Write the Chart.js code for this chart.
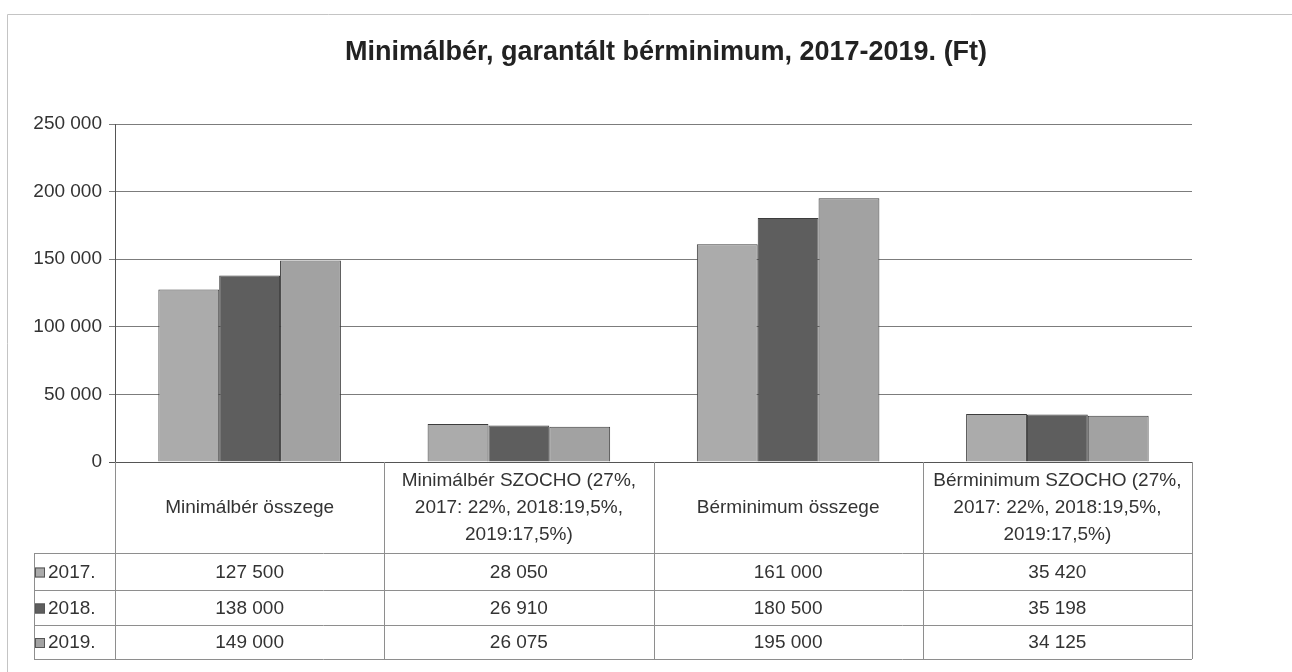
<!DOCTYPE html>
<html>
<head>
<meta charset="utf-8">
<script src="https://cdn.jsdelivr.net/npm/chart.js"></script>
<style>
  html, body { margin: 0; padding: 0; background: #fff; }
  #wrap { position: relative; width: 1292px; height: 672px; }
</style>
</head>
<body>
<div id="wrap"><canvas id="myChart" width="1292" height="672"></canvas></div>
<script>
// Chart data
const categories = [
  ['Minimálbér összege'],
  ['Minimálbér SZOCHO (27%,', '2017: 22%, 2018:19,5%,', '2019:17,5%)'],
  ['Bérminimum összege'],
  ['Bérminimum SZOCHO (27%,', '2017: 22%, 2018:19,5%,', '2019:17,5%)']
];
const years = ['2017.', '2018.', '2019.'];
const values2017 = [127500, 28050, 161000, 35420];
const values2018 = [138000, 26910, 180500, 35198];
const values2019 = [149000, 26075, 195000, 34125];
const yTicks = [0, 50000, 100000, 150000, 200000, 250000];

const barColors = ['#ababab', '#5e5e5e', '#a2a2a2'];
const FONT = '"Liberation Sans", Arial, sans-serif';
const TEXT = '#333';

// "127500" -> "127 500"
const fmt = v => String(v).replace(/\B(?=(\d{3})+(?!\d))/g, ' ');

// Title plus the data table under the plot area
const tablePlugin = {
  id: 'dataTable',
  afterDraw(chart) {
    const ctx = chart.ctx;
    const x = chart.scales.x;
    const area = chart.chartArea;
    const half = x.width / categories.length / 2;
    const headTop = area.bottom, headBottom = 553;
    const rowLines = [553, 590, 625, 659];
    const legendLeft = 34;

    ctx.save();
    // title
    ctx.fillStyle = '#222';
    ctx.font = 'bold 27px ' + FONT;
    ctx.textAlign = 'center';
    ctx.textBaseline = 'middle';
    ctx.fillText('Minimálbér, garantált bérminimum, 2017-2019. (Ft)', 666, 53);

    // outer frame of the scanned sheet
    ctx.strokeStyle = '#c4c4c4';
    ctx.lineWidth = 1;
    ctx.beginPath();
    ctx.moveTo(7.5, 672); ctx.lineTo(7.5, 14.5); ctx.lineTo(1292, 14.5);
    ctx.stroke();

    // table grid
    ctx.strokeStyle = '#8e8e8e';
    ctx.beginPath();
    for (let i = 0; i <= categories.length; i++) {
      const px = Math.round(x.getPixelForValue(i) - half) + 0.5;
      ctx.moveTo(px, headTop); ctx.lineTo(px, rowLines[rowLines.length - 1]);
    }
    rowLines.forEach(y => { ctx.moveTo(legendLeft, y + 0.5); ctx.lineTo(area.right, y + 0.5); });
    ctx.moveTo(legendLeft + 0.5, rowLines[0]); ctx.lineTo(legendLeft + 0.5, rowLines[rowLines.length - 1]);
    ctx.stroke();

    // header: category labels
    ctx.fillStyle = TEXT;
    ctx.font = '19px ' + FONT;
    const lineH = 27;
    categories.forEach((lines, i) => {
      const cx = x.getPixelForValue(i);
      const mid = (headTop + headBottom) / 2;
      lines.forEach((t, j) => {
        ctx.fillText(t, cx, mid + (j - (lines.length - 1) / 2) * lineH);
      });
    });

    // rows: legend key + values
    ctx.font = '19px ' + FONT;
    chart.data.datasets.forEach((ds, r) => {
      const cy = (rowLines[r] + rowLines[r + 1]) / 2 + 1;
      ctx.textAlign = 'left';
      ctx.fillStyle = ds.backgroundColor;
      ctx.fillRect(35, cy - 5, 10, 10);
      ctx.strokeStyle = '#555';
      ctx.strokeRect(35.5, cy - 4.5, 9, 9);
      ctx.fillStyle = TEXT;
      ctx.fillText(ds.label, 48, cy);
      ctx.textAlign = 'center';
      ds.data.forEach((v, i) => ctx.fillText(fmt(v), x.getPixelForValue(i), cy));
    });
    ctx.restore();
  }
};

const ctx = document.getElementById('myChart').getContext('2d');
const myChart = new Chart(ctx, {
  type: 'bar',
  data: {
    labels: categories.map(c => c.join(' ')),
    datasets: [values2017, values2018, values2019].map((vals, i) => ({
      label: years[i],
      data: vals,
      backgroundColor: barColors[i],
      borderColor: '#3c3c3c',
      borderWidth: 1,
      categoryPercentage: 0.678,
      barPercentage: 1.0
    }))
  },
  options: {
    responsive: false,
    animation: false,
    layout: { padding: { left: 0, right: 100, top: 124, bottom: 210 } },
    plugins: {
      legend: { display: false },
      title: { display: false },
      tooltip: { enabled: false }
    },
    scales: {
      x: { display: false },
      y: {
        min: yTicks[0],
        max: yTicks[yTicks.length - 1],
        afterBuildTicks: s => { s.ticks = yTicks.map(v => ({ value: v })); },
        afterFit: s => { s.width = 115; },
        border: { color: '#555' },
        grid: {
          color: c => (c.tick && c.tick.value === 0 ? '#555' : '#7c7c7c'),
          tickLength: 6
        },
        ticks: {
          color: TEXT,
          padding: 7,
          font: { family: FONT, size: 19 },
          callback: v => fmt(v)
        }
      }
    }
  },
  plugins: [tablePlugin]
});
</script>
</body>
</html>
